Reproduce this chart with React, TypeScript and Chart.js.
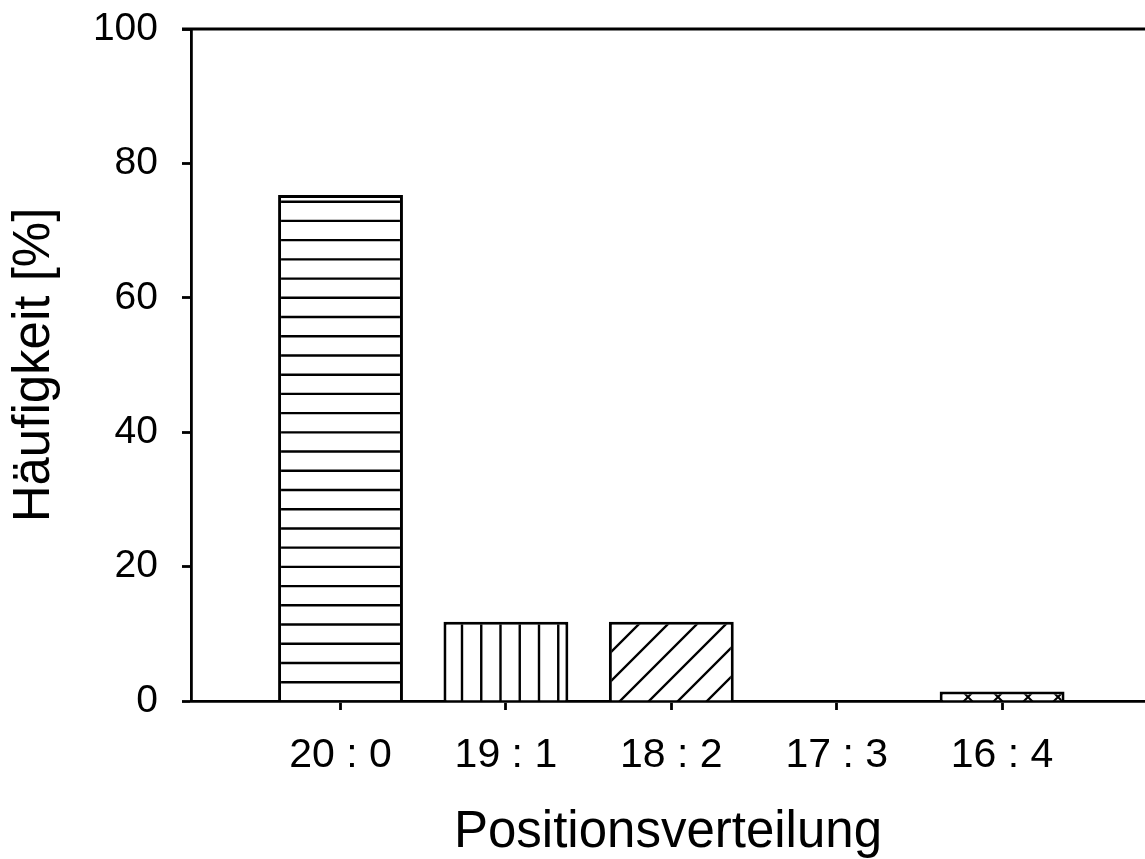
import React, { useEffect, useRef } from "react";
import { Chart, registerables } from "chart.js";

Chart.register(...registerables);

// ---- data ----
const categories = ["20 : 0", "19 : 1", "18 : 2", "17 : 3", "16 : 4"];
const frequencies = [75.3, 11.8, 11.8, 0, 1.4];
const yTicks = [0, 20, 40, 60, 80, 100];
const xTitle = "Positionsverteilung";
const yTitle = "Häufigkeit [%]";

// ---- styles ----
const W = 1145;
const H = 859;
const FONT = "'Liberation Sans', Arial, Helvetica, sans-serif";
const AXIS_W = 2.8;

type Hatch = { kind: "h" | "v" | "d" | "x"; period: number; phase: number; phase2?: number; width: number };
const hatches: Hatch[] = [
  { kind: "h", period: 19.22, phase: 9.5, width: 2.4 },
  { kind: "v", period: 19.25, phase: 0, width: 2.4 },
  { kind: "d", period: 29, phase: 16, width: 2.4 },
  { kind: "d", period: 29, phase: 16, width: 2.4 },
  { kind: "x", period: 30, phase: 15, phase2: 1, width: 2 },
];

function makePattern(ctx: CanvasRenderingContext2D, h: Hatch): CanvasPattern | string {
  const c = document.createElement("canvas");
  c.width = W;
  c.height = H;
  const g = c.getContext("2d");
  if (!g) return "#fff";
  g.fillStyle = "#fff";
  g.fillRect(0, 0, W, H);
  g.strokeStyle = "#000";
  g.lineWidth = h.width;
  g.beginPath();
  if (h.kind === "h") {
    for (let y = h.phase; y < H; y += h.period) {
      g.moveTo(0, y);
      g.lineTo(W, y);
    }
  } else if (h.kind === "v") {
    for (let x = h.phase; x < W; x += h.period) {
      g.moveTo(x, 0);
      g.lineTo(x, H);
    }
  } else {
    for (let k = h.phase; k < W + H + h.period; k += h.period) {
      g.moveTo(k, 0);
      g.lineTo(k - H, H);
    }
    if (h.kind === "x") {
      const p2 = h.phase2 ?? 0;
      for (let k = p2 - Math.ceil(H / h.period) * h.period; k < W + h.period; k += h.period) {
        g.moveTo(k, 0);
        g.lineTo(k + H, H);
      }
    }
  }
  g.stroke();
  return ctx.createPattern(c, "no-repeat") ?? "#fff";
}

const frameTop = {
  id: "frameTop",
  afterDraw(chart: any) {
    const { ctx, chartArea: a } = chart;
    ctx.save();
    ctx.strokeStyle = "#000";
    ctx.lineWidth = AXIS_W;
    ctx.beginPath();
    ctx.moveTo(a.left - 9, a.top);
    ctx.lineTo(a.right, a.top);
    ctx.stroke();
    ctx.restore();
  },
};

export default function App() {
  const ref = useRef<HTMLCanvasElement | null>(null);

  useEffect(() => {
    const canvas = ref.current;
    if (!canvas) return;
    const ctx = canvas.getContext("2d");
    if (!ctx) return;
    const fills = hatches.map((h) => makePattern(ctx, h));

    const chart = new Chart(canvas, {
      type: "bar",
      data: {
        datasets: [
          {
            data: frequencies.map((v, i) => ({ x: i, y: v })),
            backgroundColor: fills as any,
            borderColor: "#000",
            borderWidth: 3,
            borderSkipped: "start",
            categoryPercentage: 1,
            barPercentage: 0.755,
          },
        ],
      },
      options: {
        animation: false,
        responsive: false,
        maintainAspectRatio: false,
        devicePixelRatio: 1,
        layout: { padding: { top: 29, left: 0, right: 0, bottom: 0 } },
        plugins: { legend: { display: false }, tooltip: { enabled: false } },
        scales: {
          x: {
            type: "linear",
            min: -0.904,
            max: 4.864,
            offset: false,
            z: 1,
            afterFit: (s: any) => {
              s.height = 158;
              s.paddingLeft = 0;
              s.paddingRight = 0;
            },
            afterBuildTicks: (s: any) => {
              s.ticks = categories.map((_, i) => ({ value: i }));
            },
            ticks: {
              callback: (v: any) => categories[Number(v)] ?? "",
              font: { family: FONT, size: 41 },
              color: "#000",
              padding: 21,
              maxRotation: 0,
              autoSkip: false,
            },
            grid: {
              display: true,
              offset: false,
              drawOnChartArea: false,
              drawTicks: true,
              tickLength: 9,
              tickWidth: AXIS_W,
              tickColor: "#000",
            },
            border: { display: true, color: "#000", width: AXIS_W },
            title: {
              display: true,
              text: xTitle,
              color: "#000",
              font: { family: FONT, size: 51, lineHeight: 1 },
              padding: { top: 0, bottom: 1 },
            },
          },
          y: {
            min: 0,
            max: 100,
            z: 1,
            afterFit: (s: any) => {
              s.width = 191;
              s.paddingTop = 0;
              s.paddingBottom = 0;
            },
            afterBuildTicks: (s: any) => {
              s.ticks = yTicks.map((v) => ({ value: v }));
            },
            ticks: {
              font: { family: FONT, size: 39 },
              color: "#000",
              padding: 24,
            },
            grid: {
              display: true,
              drawOnChartArea: false,
              drawTicks: true,
              tickLength: 9,
              tickWidth: AXIS_W,
              tickColor: "#000",
            },
            border: { display: true, color: "#000", width: AXIS_W },
            title: {
              display: true,
              text: yTitle,
              color: "#000",
              font: { family: FONT, size: 51, lineHeight: 1 },
              padding: { top: 9, bottom: 0 },
            },
          },
        },
      },
      plugins: [frameTop],
    });
    return () => chart.destroy();
  }, []);

  return (
    <div
      style={{
        position: "fixed",
        left: 0,
        top: 0,
        width: W,
        height: H,
        overflow: "hidden",
        background: "#fff",
      }}
    >
      <canvas ref={ref} width={W} height={H} style={{ width: W, height: H, display: "block" }} />
    </div>
  );
}
